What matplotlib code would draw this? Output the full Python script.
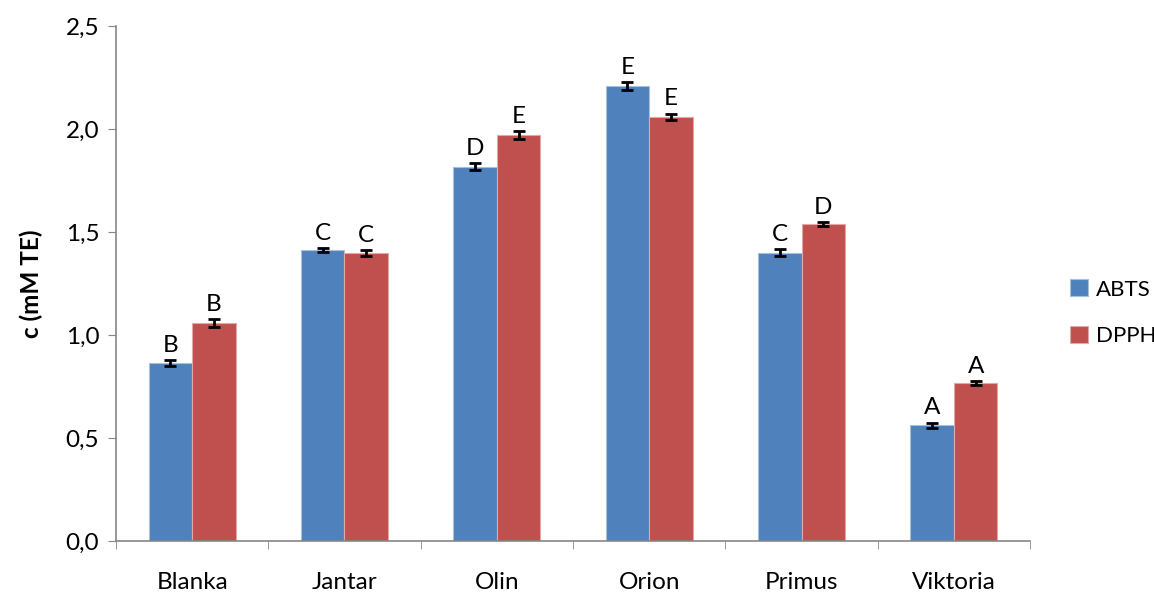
import matplotlib.pyplot as plt
import numpy as np

plt.rcParams['font.family'] = ['Lato', 'DejaVu Sans']

cultivars = ["Blanka", "Jantar", "Olin", "Orion", "Primus", "Viktoria"]
abts = [0.864, 1.413, 1.817, 2.209, 1.400, 0.562]
abts_err = [0.013, 0.010, 0.018, 0.018, 0.016, 0.013]
dpph = [1.058, 1.398, 1.971, 2.060, 1.539, 0.766]
dpph_err = [0.018, 0.015, 0.019, 0.015, 0.011, 0.010]
abts_groups = ["B", "C", "D", "E", "C", "A"]
dpph_groups = ["B", "C", "E", "E", "D", "A"]

blue = "#4F81BD"
red = "#C0504D"
axis_grey = "#868686"
fs = 17.5

fig = plt.figure(figsize=(11.54, 5.96), dpi=100)
ax = fig.add_axes([0.1005, 0.0923, 0.7921, 0.8641])

x = np.arange(len(cultivars))
w = 1 / 3.5

err_style = dict(ecolor="black", elinewidth=2, capsize=4, capthick=2)
b1 = ax.bar(x - w / 2, abts, w, color=blue, edgecolor="#A7C0DE", linewidth=0.8,
            yerr=abts_err, error_kw=err_style, label="ABTS")
b2 = ax.bar(x + w / 2, dpph, w, color=red, edgecolor="#E0A9A7", linewidth=0.8,
            yerr=dpph_err, error_kw=err_style, label="DPPH")

# significance letters above each bar
for xs, vals, errs, letters in [(x - w / 2, abts, abts_err, abts_groups),
                                (x + w / 2, dpph, dpph_err, dpph_groups)]:
    for xi, v, e, s in zip(xs, vals, errs, letters):
        ax.annotate(s, (xi, v + e), xytext=(0, 3), textcoords="offset points",
                    ha="center", va="bottom", fontsize=fs)

ax.set_xlim(-0.5, len(cultivars) - 0.5)
ax.set_ylim(0, 2.5)
ticks = np.arange(0, 2.51, 0.5)
ax.set_yticks(ticks)
ax.set_yticklabels([f"{t:.1f}".replace(".", ",") for t in ticks])
ax.set_xticks(x)
ax.set_xticklabels(cultivars)
ax.set_xticks(np.arange(-0.5, len(cultivars)), minor=True)
ax.tick_params(axis="x", which="major", length=0, pad=22, labelsize=fs)
ax.tick_params(axis="x", which="minor", length=6, color=axis_grey, direction="out")
ax.tick_params(axis="y", length=6, color=axis_grey, labelsize=fs, pad=6)

for side in ["top", "right"]:
    ax.spines[side].set_visible(False)
for side in ["left", "bottom"]:
    ax.spines[side].set_color(axis_grey)
    ax.spines[side].set_linewidth(1.2)

ax.set_ylabel("c (mM TE)", fontsize=fs, fontweight="bold", labelpad=16)

ax.legend(handles=[b1, b2], labels=["ABTS", "DPPH"], loc="center left",
          bbox_to_anchor=(1.044, 0.443), frameon=False, fontsize=16,
          borderaxespad=0, borderpad=0,
          handlelength=0.8, handleheight=0.8, labelspacing=1.2, handletextpad=0.35)

fig.savefig("out.png", dpi=100)
